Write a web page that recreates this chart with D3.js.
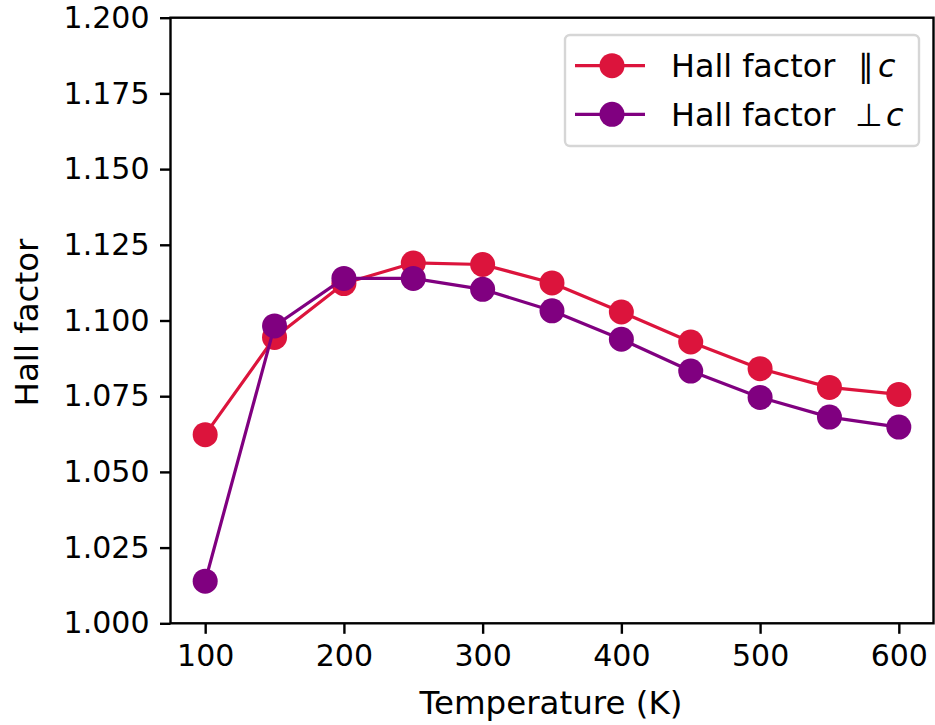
<!DOCTYPE html>
<html>
<head>
<meta charset="utf-8">
<script src="https://cdn.jsdelivr.net/npm/d3@7"></script>
<style>
  html, body { margin: 0; padding: 0; background: #fff; }
  svg { display: block; }
  text { font-family: "DejaVu Sans", sans-serif; fill: #000; }
</style>
</head>
<body>
<svg id="chart" width="935" height="725"></svg>
<script>
const temperatures = [100, 150, 200, 250, 300, 350, 400, 450, 500, 550, 600];
const hallParallel = [1.0623, 1.0944, 1.1122, 1.1190, 1.1185, 1.1124, 1.1028, 1.0929, 1.0841, 1.0779, 1.0756];
const hallPerp     = [1.0139, 1.0982, 1.1139, 1.1139, 1.1103, 1.1032, 1.0938, 1.0833, 1.0746, 1.0681, 1.0648];
const xTicks = [100, 200, 300, 400, 500, 600];
const yTicks = [1.000, 1.025, 1.050, 1.075, 1.100, 1.125, 1.150, 1.175, 1.200];
const seriesNames = ["Hall factor", "Hall factor"];
const seriesSymbols = ["\u2225", "\u22A5"];
const seriesColors = ["#DC143C", "#800080"];

const svg = d3.select("#chart");
const plotLeft = 170.5, plotRight = 933.5, plotTop = 17.7, plotBottom = 623.3;
const x = d3.scaleLinear().domain([75, 625]).range([plotLeft, plotRight]);
const y = d3.scaleLinear().domain([1.0, 1.2]).range([plotBottom, plotTop]);

const fs = 30, labelFs = 32.5, legendFs = 31.8;
const tickLen = 10.5, tickPad = 10.5, spineW = 2.4;

// series
const series = [hallParallel, hallPerp];
const line = d3.line().x((d, i) => x(temperatures[i])).y(d => y(d));
series.forEach((vals, si) => {
  svg.append("path").datum(vals)
    .attr("d", line)
    .attr("fill", "none")
    .attr("stroke", seriesColors[si])
    .attr("stroke-width", 3.2)
    .attr("stroke-linejoin", "round");
  svg.selectAll(null).data(vals).enter().append("circle")
    .attr("cx", (d, i) => x(temperatures[i]))
    .attr("cy", d => y(d))
    .attr("r", 12.5)
    .attr("fill", seriesColors[si]);
});

// axes
const xAxis = d3.axisBottom(x).tickValues(xTicks).tickSize(tickLen).tickPadding(tickPad).tickFormat(d3.format("d"));
const yAxis = d3.axisLeft(y).tickValues(yTicks).tickSize(tickLen).tickPadding(tickPad).tickFormat(d3.format(".3f"));

const gx = svg.append("g").attr("transform", `translate(0,${plotBottom})`).call(xAxis);
const gy = svg.append("g").attr("transform", `translate(${plotLeft},0)`).call(yAxis);
[gx, gy].forEach(g => {
  g.select(".domain").remove();
  g.selectAll(".tick line").attr("stroke", "#000").attr("stroke-width", spineW);
  g.selectAll(".tick text").attr("font-size", fs).attr("font-family", "DejaVu Sans").attr("fill", "#000");
});

// spines
svg.append("rect")
  .attr("x", plotLeft).attr("y", plotTop)
  .attr("width", plotRight - plotLeft).attr("height", plotBottom - plotTop)
  .attr("fill", "none").attr("stroke", "#000").attr("stroke-width", spineW);

// axis labels
svg.append("text")
  .attr("x", (plotLeft + plotRight) / 2 - 1).attr("y", 714)
  .attr("text-anchor", "middle").attr("font-size", labelFs)
  .text("Temperature (K)");
svg.append("text")
  .attr("transform", `translate(38,${(plotTop + plotBottom) / 2 + 2}) rotate(-90)`)
  .attr("text-anchor", "middle").attr("font-size", labelFs)
  .text("Hall factor");

// legend
const lg = svg.append("g");
lg.append("rect")
  .attr("x", 565).attr("y", 35).attr("width", 354).attr("height", 111)
  .attr("rx", 5).attr("ry", 5)
  .attr("fill", "#fff").attr("fill-opacity", 0.8)
  .attr("stroke", "#d6d6d6").attr("stroke-width", 2.4);
const rowY = [65.7, 114.3];
const symX = [858, 855], cX = [878, 886];
seriesNames.forEach((name, i) => {
  lg.append("line")
    .attr("x1", 575).attr("x2", 645).attr("y1", rowY[i]).attr("y2", rowY[i])
    .attr("stroke", seriesColors[i]).attr("stroke-width", 3.2);
  lg.append("circle").attr("cx", 612).attr("cy", rowY[i]).attr("r", 12.5).attr("fill", seriesColors[i]);
  const t = lg.append("text")
    .attr("x", 671).attr("y", rowY[i] + 11.5).attr("font-size", legendFs);
  t.append("tspan").text(name);
  t.append("tspan").attr("x", symX[i]).text(seriesSymbols[i]);
  t.append("tspan").attr("x", cX[i]).attr("font-style", "italic").text("c");
});
</script>
</body>
</html>
